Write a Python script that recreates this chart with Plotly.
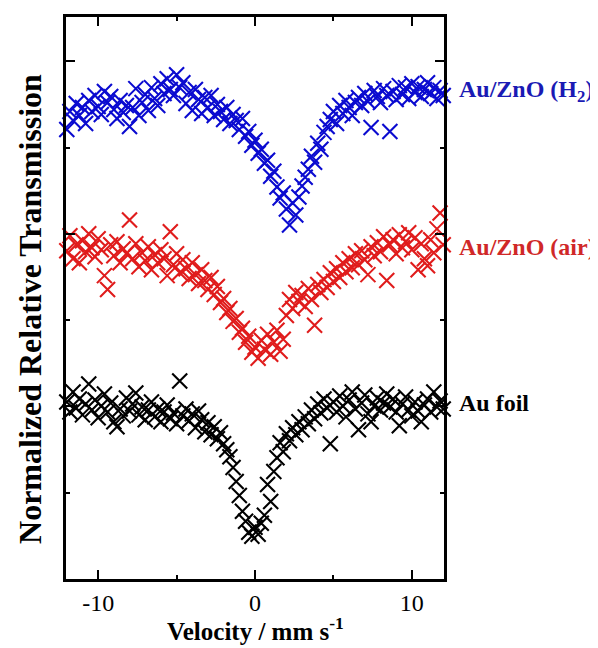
import plotly.graph_objects as go

velocity = [
    -12.0, -11.8, -11.6, -11.4, -11.2, -11.0, -10.8, -10.6, -10.4, -10.2,
    -10.0, -9.8, -9.6, -9.4, -9.2, -9.0, -8.8, -8.6, -8.4, -8.2,
    -8.0, -7.8, -7.6, -7.4, -7.2, -7.0, -6.8, -6.6, -6.4, -6.2,
    -6.0, -5.8, -5.6, -5.4, -5.2, -5.0, -4.8, -4.6, -4.4, -4.2,
    -4.0, -3.8, -3.6, -3.4, -3.2, -3.0, -2.8, -2.6, -2.4, -2.2,
    -2.0, -1.8, -1.6, -1.4, -1.2, -1.0, -0.8, -0.6, -0.4, -0.2,
    0.0, 0.2, 0.4, 0.6, 0.8, 1.0, 1.2, 1.4, 1.6, 1.8,
    2.0, 2.2, 2.4, 2.6, 2.8, 3.0, 3.2, 3.4, 3.6, 3.8,
    4.0, 4.2, 4.4, 4.6, 4.8, 5.0, 5.2, 5.4, 5.6, 5.8,
    6.0, 6.2, 6.4, 6.6, 6.8, 7.0, 7.2, 7.4, 7.6, 7.8,
    8.0, 8.2, 8.4, 8.6, 8.8, 9.0, 9.2, 9.4, 9.6, 9.8,
    10.0, 10.2, 10.4, 10.6, 10.8, 11.0, 11.2, 11.4, 11.6, 11.8,
    12.0,
]

# Offset relative transmission (arbitrary units)
au_zno_h2 = [
    452, 470, 461, 478, 466, 474, 458, 481, 470, 486,
    475, 467, 490, 479, 485, 472, 463, 481, 469, 476,
    455, 474, 493, 466, 479, 487, 471, 494, 483, 476,
    498, 488, 503, 492, 486, 507, 494, 499, 478, 489,
    471, 492, 482, 468, 484, 474, 486, 466, 477, 470,
    462, 474, 458, 467, 461, 452, 463, 445, 450, 436,
    441, 428, 432, 418, 421, 405, 410, 394, 383, 388,
    372, 356, 378, 366, 384, 395, 404, 412, 425, 419,
    438, 432, 449, 455, 462, 470, 458, 476, 468, 481,
    474, 466, 479, 484, 476, 488, 480, 454, 491, 485,
    479, 493, 486, 450, 490, 482, 496, 487, 494, 483,
    498, 489, 495, 485, 492, 499, 488, 494, 483, 491,
    486,
]

au_zno_air = [
    330, 345, 322, 336, 318, 340, 329, 347, 333, 324,
    342, 331, 305, 291, 336, 325, 339, 318, 332, 327,
    361, 322, 337, 314, 328, 320, 334, 311, 326, 318,
    331, 322, 305, 349, 316, 327, 308, 321, 312, 302,
    318, 306, 297, 311, 300, 291, 303, 286, 294, 278,
    282, 268, 272, 259, 262, 248, 252, 238, 244, 228,
    233, 222, 240, 231, 246, 226, 238, 250, 229, 241,
    265, 281, 272, 288, 279, 285, 274, 292, 281, 255,
    296, 288, 301, 293, 308, 299, 312, 303, 318, 309,
    322, 313, 327, 316, 330, 321, 306, 334, 325, 338,
    329, 344, 300, 336, 341, 327, 346, 333, 339, 348,
    331, 343, 311, 337, 322, 315, 341, 328, 352, 368,
    336,
]

au_foil = [
    178, 168, 188, 172, 181, 165, 176, 196, 170, 180,
    162, 174, 186, 168, 177, 158, 153, 171, 164, 182,
    169, 176, 187, 165, 173, 160, 170, 178, 163, 171,
    158, 168, 175, 161, 167, 156, 199, 164, 171, 159,
    166, 152, 169, 160, 148, 157, 145, 153, 141, 147,
    136, 130, 123, 112, 98, 84, 68, 58, 47, 43,
    52, 45, 56, 64, 95, 78, 108, 122, 137, 128,
    146, 139, 152, 145, 158, 150, 163, 156, 170, 161,
    176, 167, 181, 172, 136, 178, 168, 184, 174, 163,
    180, 188, 171, 150, 177, 185, 166, 158, 174, 182,
    170, 177, 186, 173, 181, 168, 154, 176, 183, 170,
    164, 178, 169, 158, 175, 181, 168, 188, 173, 179,
    171,
]

series_names = ["Au/ZnO (H<sub>2</sub>)", "Au/ZnO (air)", "Au foil"]
series_values = [au_zno_h2, au_zno_air, au_foil]
series_colors = ["#0b0bd0", "#e01c1c", "#000000"]
label_colors = ["#1a1ab4", "#d02828", "#000000"]
label_y = [491, 334, 177]

x_ticks = [-10, 0, 10]
x_tick_text = ["-10", "0", "10"]

FONT = "Liberation Serif, Times New Roman, serif"

fig = go.Figure()
for name, vals, col in zip(series_names, series_values, series_colors):
    fig.add_trace(go.Scatter(
        x=velocity, y=vals, mode="markers", name=name,
        marker=dict(symbol="x-thin-open", size=15, color=col,
                    line=dict(color=col, width=2.1)),
        cliponaxis=False, showlegend=False,
    ))

for name, yv, col in zip(series_names, label_y, label_colors):
    fig.add_annotation(
        x=1.0344, xref="paper", y=yv, yref="y", text="<b>" + name + "</b>",
        showarrow=False, xanchor="left", yanchor="middle",
        font=dict(family=FONT, size=24, color=col),
    )

fig.add_annotation(
    x=0.5, xref="paper", y=-0.1204, yref="paper",
    text="<b>Velocity / mm s<sup>-1</sup></b>", showarrow=False,
    xanchor="center", yanchor="bottom",
    font=dict(family=FONT, size=25, color="black"),
)
fig.add_annotation(
    x=-0.0952, xref="paper", y=0.4805, yref="paper",
    text="<b>Normalized Relative Transmission</b>", showarrow=False,
    textangle=-90, xanchor="center", yanchor="middle",
    font=dict(family=FONT, size=32, color="black"),
)

fig.update_layout(
    width=590, height=640,
    margin=dict(l=58, r=154, t=6, b=69),
    paper_bgcolor="white", plot_bgcolor="white",
    font=dict(family=FONT, color="black"),
    xaxis=dict(
        range=[-12.05, 12.05], showgrid=False, zeroline=False,
        showline=True, linewidth=3, linecolor="black", mirror="ticks",
        ticks="inside", ticklen=9, tickwidth=1.6, tickcolor="black",
        tickvals=x_ticks, ticktext=x_tick_text,
        tickfont=dict(family=FONT, size=24, color="black"),
        ticklabelstandoff=0,
        minor=dict(ticks="inside", ticklen=4, tickwidth=1.6,
                   tickcolor="black", tickvals=[-5, 5]),
    ),
    yaxis=dict(
        range=[0, 565], showgrid=False, zeroline=False,
        showline=True, linewidth=3, linecolor="black", mirror="ticks",
        ticks="inside", ticklen=9, tickwidth=1.6, tickcolor="black",
        tick0=0, dtick=173.5, showticklabels=False,
        minor=dict(ticks="inside", ticklen=4, tickwidth=1.6,
                   tickcolor="black", tick0=86.75, dtick=173.5),
    ),
)

fig.write_html("out.html")
